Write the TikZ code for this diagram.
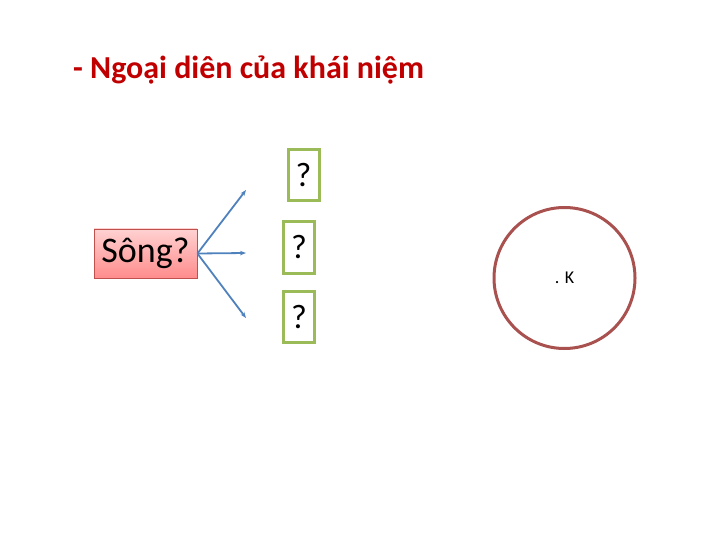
\documentclass[tikz,border=0pt]{standalone}
\usepackage{fontspec}
\setmainfont{Carlito}
\usetikzlibrary{arrows.meta, positioning}
\definecolor{titlered}{HTML}{C00000}
\definecolor{boxgreen}{HTML}{9BBB59}
\definecolor{arrowblue}{HTML}{4F81BD}
\definecolor{ringred}{HTML}{A9514F}
\definecolor{pinkborder}{HTML}{C0504D}

\begin{document}
\begin{tikzpicture}[
    x=1pt, y=-1pt,
    title/.style={anchor=base west, text=titlered, font=\fontsize{32}{36}\selectfont\bfseries, inner sep=0pt},
    source/.style={rectangle, draw=pinkborder, line width=0.8pt, top color=red!18, bottom color=red!45, minimum width=103pt, minimum height=49pt, inner sep=0pt, font=\fontsize{36}{40}\selectfont},
    qbox/.style={rectangle, draw=boxgreen, line width=3pt, fill=white, minimum width=31pt, minimum height=51pt, inner sep=0pt, font=\fontsize{34}{38}\selectfont},
    ring/.style={circle, draw=ringred, line width=3pt, minimum size=141pt, inner sep=0pt, font=\fontsize{18}{20}\selectfont},
    arrow/.style={-{Stealth[length=6pt, width=4.5pt]}, draw=arrowblue, line width=1.8pt}
]
\useasboundingbox (0,0) rectangle (720,540);

\node[title] (heading) at (73,79) {- Ngoại diên của khái niệm};

\node[source] (song) at (145.5,253.5) {Sông?};

\node[qbox] (qtop) at (303.5,175) {?};
\node[qbox] (qmid) at (299,247.5) {?};
\node[qbox] (qbot) at (299,317) {?};

\coordinate (tiptop) at (246,190);
\coordinate (tipmid) at (246,253);
\coordinate (tipbot) at (246,318);

\draw[arrow] (song.east) -- (tiptop);
\draw[arrow] (song.east) -- (tipmid);
\draw[arrow] (song.east) -- (tipbot);

\node[ring] (vung) at (564.5,278) {. K};

\end{tikzpicture}
\end{document}
